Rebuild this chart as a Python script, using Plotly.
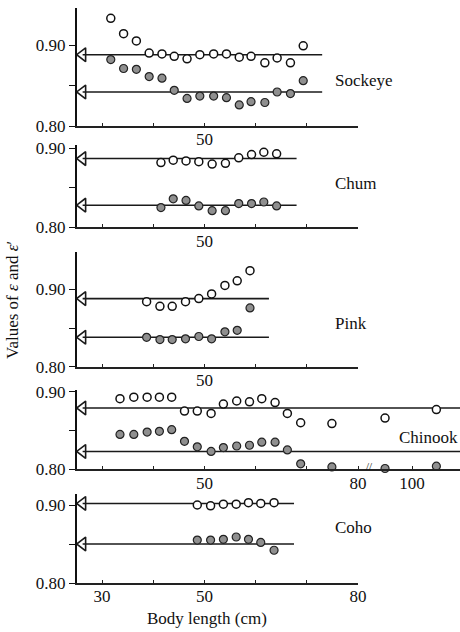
import plotly.graph_objects as go

# ---------------- data ----------------
species = ["Sockeye", "Chum", "Pink", "Chinook", "Coho"]

sockeye_x = [31.7, 34.2, 36.7, 39.2, 41.7, 44.1, 46.6, 49.1, 51.8, 54.3, 56.8, 59.1, 61.8, 64.2, 66.8, 69.3]
sockeye_e = [0.933, 0.914, 0.905, 0.890, 0.889, 0.886, 0.883, 0.888, 0.889, 0.889, 0.885, 0.886, 0.878, 0.884, 0.878, 0.899]
sockeye_e2 = [0.882, 0.871, 0.870, 0.861, 0.859, 0.844, 0.834, 0.837, 0.837, 0.835, 0.826, 0.830, 0.829, 0.842, 0.840, 0.856]

chum_x = [41.5, 43.9, 46.4, 48.9, 51.5, 54.1, 56.7, 59.2, 61.6, 64.1]
chum_e = [0.882, 0.885, 0.884, 0.883, 0.880, 0.881, 0.888, 0.892, 0.895, 0.893]
chum_e2 = [0.825, 0.836, 0.834, 0.827, 0.821, 0.821, 0.830, 0.830, 0.832, 0.827]

pink_x = [38.7, 41.3, 43.7, 46.3, 48.9, 51.4, 54.0, 56.4, 58.9]
pink_e = [0.884, 0.878, 0.878, 0.884, 0.888, 0.894, 0.905, 0.911, 0.924]
pink_e2 = [0.838, 0.835, 0.835, 0.836, 0.839, 0.836, 0.845, 0.847, 0.876]

chinook_x = [33.5, 36.2, 38.8, 41.2, 43.6, 46.1, 48.6, 51.3, 53.7, 56.3, 58.8, 61.2, 63.8, 66.2, 68.8, 74.9, 90, 109]
chinook_e = [0.891, 0.893, 0.893, 0.893, 0.893, 0.875, 0.875, 0.872, 0.884, 0.888, 0.887, 0.891, 0.886, 0.872, 0.860, 0.859, 0.866, 0.877]
chinook_e2 = [0.845, 0.845, 0.848, 0.849, 0.851, 0.836, 0.829, 0.823, 0.828, 0.830, 0.831, 0.835, 0.835, 0.825, 0.807, 0.803, 0.801, 0.804]

coho_x = [48.6, 51.2, 53.7, 56.2, 58.6, 61.0, 63.6]
coho_e = [0.900, 0.899, 0.901, 0.901, 0.903, 0.902, 0.903]
coho_e2 = [0.855, 0.855, 0.856, 0.859, 0.856, 0.852, 0.842]

# mean values (arrowed horizontal lines) and line extents
mean_e = [0.888, 0.887, 0.888, 0.879, 0.902]
mean_e2 = [0.842, 0.828, 0.838, 0.823, 0.850]
line_end = [73.0, 68.0, 62.6, 118.0, 67.5]

x_ticks = [30, 40, 50, 60, 70, 80]
x_ticks_chinook_extra = [100]
y_ticks = [0.80, 0.85, 0.90]
y_tick_text = ["0.80", "", "0.90"]

# ---------------- layout helpers ----------------
BREAK = 80.0
BREAK_K = 0.528  # compression of the axis beyond the break (Chinook)


def disp(v):
    return v if v <= BREAK else BREAK + (v - BREAK) * BREAK_K


FONT = "Liberation Serif"
W, H = 460, 632
ML, MB = 77, 49
PH = H - MB  # plot height in px


def pfrac(py):
    return (PH - py) / PH


# pixel geometry per panel: (y of 0.80, y of top)
panel_px = [(126.0, 8.0), (227.3, 145.0), (366.7, 252.0), (469.3, 390.0), (583.0, 494.0)]
px_per_01 = [81.0, 79.0, 77.4, 77.6, 78.0]
xdom_short = (358 - ML) / (W - ML)
x_lo = 25.1
x_hi_short = 80.0
x_hi_chinook = x_lo + (W - ML) / ((358 - ML) / (x_hi_short - x_lo))

all_x = [sockeye_x, chum_x, pink_x, chinook_x, coho_x]
all_e = [sockeye_e, chum_e, pink_e, chinook_e, coho_e]
all_e2 = [sockeye_e2, chum_e2, pink_e2, chinook_e2, coho_e2]

fig = go.Figure()
arrow_x = 26.2

for i in range(5):
    n = i + 1
    xa = "x" if n == 1 else f"x{n}"
    ya = "y" if n == 1 else f"y{n}"
    xs = [disp(v) for v in all_x[i]]
    for m in (mean_e[i], mean_e2[i]):
        fig.add_trace(go.Scatter(
            x=[arrow_x, disp(line_end[i])], y=[m, m], mode="lines",
            line=dict(color="#1a1a1a", width=1.6), xaxis=xa, yaxis=ya,
            showlegend=False, hoverinfo="skip"))
        fig.add_trace(go.Scatter(
            x=[arrow_x], y=[m], mode="markers",
            marker=dict(symbol="triangle-left-open", size=12,
                        line=dict(color="#1a1a1a", width=1.6), color="#1a1a1a"),
            xaxis=xa, yaxis=ya, showlegend=False, cliponaxis=False, hoverinfo="skip"))
    # filled (epsilon prime)
    fig.add_trace(go.Scatter(
        x=xs, y=all_e2[i], mode="markers",
        marker=dict(symbol="circle", size=8, color="#8f8f8f",
                    line=dict(color="#222222", width=1.2)),
        xaxis=xa, yaxis=ya, showlegend=False, cliponaxis=False))
    # open (epsilon)
    fig.add_trace(go.Scatter(
        x=xs, y=all_e[i], mode="markers",
        marker=dict(symbol="circle", size=8, color="white",
                    line=dict(color="#111111", width=1.5)),
        xaxis=xa, yaxis=ya, showlegend=False, cliponaxis=False))

layout = dict(
    template="none",
    width=W, height=H,
    margin=dict(l=ML, r=0, t=0, b=MB, pad=0),
    paper_bgcolor="white", plot_bgcolor="white",
    font=dict(family=FONT, size=17, color="#111111"),
    showlegend=False,
)

annotations = []
for i in range(5):
    n = i + 1
    xkey = "xaxis" if n == 1 else f"xaxis{n}"
    ykey = "yaxis" if n == 1 else f"yaxis{n}"
    y80, ytop = panel_px[i]
    top_val = 0.80 + (y80 - ytop) / (px_per_01[i] * 10)
    if species[i] == "Chinook":
        tv = [disp(v) for v in x_ticks] + [disp(v) for v in x_ticks_chinook_extra]
        tt = ["", "", "50", "", "", "80", "100"]
        xdom = [0, 1]
        xr = [x_lo, x_hi_chinook]
    elif species[i] == "Coho":
        tv = x_ticks
        tt = ["30", "", "50", "", "", "80"]
        xdom = [0, xdom_short]
        xr = [x_lo, x_hi_short]
    else:
        tv = x_ticks
        tt = ["", "", "50", "", "", ""]
        xdom = [0, xdom_short]
        xr = [x_lo, x_hi_short]
    layout[xkey] = dict(
        domain=xdom, range=xr, anchor="y" if n == 1 else f"y{n}",
        automargin=False,
        showline=True, linecolor="#222222", linewidth=2, showgrid=False,
        zeroline=False, tickmode="array", tickvals=tv, ticktext=tt,
        ticks="inside", ticklen=3, tickcolor="#222222", ticklabelstandoff=-3,
        tickfont=dict(family=FONT, size=17))
    layout[ykey] = dict(
        domain=[pfrac(y80), pfrac(ytop)], range=[0.80, top_val],
        anchor="x" if n == 1 else f"x{n}",
        automargin=False,
        showline=True, linecolor="#111111", linewidth=2, showgrid=False,
        zeroline=False, tickmode="array", tickvals=y_ticks, ticktext=y_tick_text,
        ticks="outside", ticklen=6, tickcolor="#111111",
        tickfont=dict(family=FONT, size=17))

# species labels
label_px = [(333, 81), (333, 183), (333, 323), (397, 437), (333, 527)]
for i, name in enumerate(species):
    lx, ly = label_px[i]
    annotations.append(dict(
        text=name, xref="paper", yref="paper",
        x=(lx - ML) / (W - ML), y=pfrac(ly), xanchor="left", yanchor="middle",
        showarrow=False, font=dict(family=FONT, size=17)))

# axis break mark on Chinook
annotations.append(dict(
    text="//", xref="x4", yref="y4", x=disp(BREAK) + 2.2, y=0.80, yshift=3,
    showarrow=False, font=dict(family=FONT, size=11), xanchor="center", yanchor="middle"))

# axis titles
annotations.append(dict(
    text="Values of <i>ε</i> and <i>ε</i>′", xref="paper", yref="paper",
    x=0, xshift=-65, y=pfrac(300), xanchor="center", yanchor="middle",
    textangle=-90, showarrow=False, font=dict(family=FONT, size=17)))
annotations.append(dict(
    text="Body length (cm)", xref="paper", yref="paper",
    x=(207 - ML) / (W - ML), y=pfrac(618), xanchor="center", yanchor="middle",
    showarrow=False, font=dict(family=FONT, size=17)))

layout["annotations"] = annotations
fig.update_layout(**layout)
fig.write_html("out.html")
